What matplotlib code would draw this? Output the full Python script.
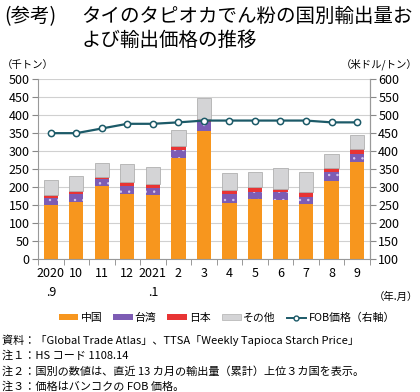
import matplotlib
matplotlib.use("Agg")
import matplotlib.pyplot as plt
import numpy as np
from matplotlib.patches import Patch
from matplotlib.lines import Line2D

plt.rcParams['font.family'] = ['Noto Sans CJK JP', 'DejaVu Sans']
plt.rcParams['hatch.linewidth'] = 0.5

months = ["2020\n.9", "10", "11", "12", "2021\n.1", "2", "3", "4", "5", "6", "7", "8", "9"]
china = [150, 159, 203, 180, 178, 281, 355, 156, 166, 164, 153, 217, 270]
taiwan = [21, 21, 19, 23, 19, 21, 26, 25, 21, 22, 20, 24, 23]
japan = [8, 9, 7, 11, 11, 13, 7, 11, 13, 8, 14, 13, 13]
other = [42, 41, 39, 49, 48, 43, 59, 46, 41, 58, 54, 37, 38]
fob = [450, 450, 463, 476, 476, 480, 485, 485, 485, 485, 485, 480, 480]

c_china = "#f7961e"
c_taiwan = "#7d5cb4"
c_japan = "#e83434"
c_other = "#d4d4d6"
c_line = "#1c5a68"

fig = plt.figure(figsize=(4.2, 3.92), dpi=100)
fig.text(0.01, 0.985, "(参考)", fontsize=14, va="top", ha="left")
fig.text(0.193, 0.985, "タイのタピオカでん粉の国別輸出量お", fontsize=14, va="top", ha="left")
fig.text(0.193, 0.923, "よび輸出価格の推移", fontsize=14, va="top", ha="left")

ax = fig.add_axes([0.0905, 0.339, 0.79, 0.459])
x = np.arange(len(months))
w = 0.56
china_a = np.array(china)
taiwan_a = np.array(taiwan)
japan_a = np.array(japan)
other_a = np.array(other)
ax.bar(x, china_a, w, color=c_china, zorder=2)
ax.bar(x, taiwan_a, w, bottom=china_a, color=c_taiwan, edgecolor="#d8ccf0",
       hatch="..", linewidth=0, zorder=2)
ax.bar(x, japan_a, w, bottom=china_a + taiwan_a, color=c_japan, zorder=2)
ax.bar(x, other_a, w, bottom=china_a + taiwan_a + japan_a, color=c_other,
       edgecolor="#b0b0b0", linewidth=0.6, zorder=2)

ax.set_ylim(0, 500)
ax.set_yticks(range(0, 501, 50))
ax.set_xlim(-0.5, len(months) - 0.5)
ax.set_xticks(x)
ax.set_xticklabels(months, fontsize=9, va="top", linespacing=1.6)
ax.set_xticks(np.arange(-0.5, len(months), 1), minor=True)
ax.tick_params(axis="x", which="major", length=0, pad=6)
ax.tick_params(axis="x", which="minor", length=4, color="#888888")
ax.tick_params(axis="y", labelsize=9, length=4, color="#888888", pad=2)
ax.grid(axis="y", color="#d0d0d0", lw=0.8, zorder=0)
ax.spines["top"].set_visible(False)
for s in ["left", "bottom", "right"]:
    ax.spines[s].set_color("#999999")

ax2 = ax.twinx()
ax2.plot(x, fob, color=c_line, lw=1.6, marker="o", markersize=4.5,
         markerfacecolor="white", markeredgecolor=c_line, markeredgewidth=1.1, zorder=3)
ax2.set_ylim(100, 600)
ax2.set_yticks(range(100, 601, 50))
ax2.tick_params(axis="y", labelsize=9, length=4, color="#888888", pad=2)
for s in ["top", "left", "bottom"]:
    ax2.spines[s].set_visible(False)
ax2.spines["right"].set_color("#999999")

fig.text(0.005, 0.835, "（千トン）", fontsize=7.5, va="center", ha="left")
fig.text(0.995, 0.835, "（米ドル/トン）", fontsize=7.5, va="center", ha="right")
fig.text(0.995, 0.243, "（年.月）", fontsize=7.5, va="center", ha="right")

handles = [
    Patch(facecolor=c_china, label="中国"),
    Patch(facecolor=c_taiwan, label="台湾"),
    Patch(facecolor=c_japan, label="日本"),
    Patch(facecolor=c_other, edgecolor="#b0b0b0", lw=0.5, label="その他"),
    Line2D([0], [0], color=c_line, lw=1.4, marker="o", markersize=3.5,
           markerfacecolor="white", markeredgecolor=c_line, label="FOB価格（右軸）"),
]
fig.legend(handles=handles, loc="center", bbox_to_anchor=(0.54, 0.189), ncol=5,
           frameon=False, fontsize=7.8, handlelength=1.8, handleheight=0.45,
           handletextpad=0.2, columnspacing=1.0)

notes = [
    "資料：「Global Trade Atlas」、TTSA「Weekly Tapioca Starch Price」",
    "注１：HS コード 1108.14",
    "注２：国別の数値は、直近 13 カ月の輸出量（累計）上位３カ国を表示。",
    "注３：価格はバンコクの FOB 価格。",
]
for i, t in enumerate(notes):
    fig.text(0.005, 0.133 - i * 0.04, t, fontsize=8, va="center", ha="left")

fig.savefig("out.png", dpi=100)
